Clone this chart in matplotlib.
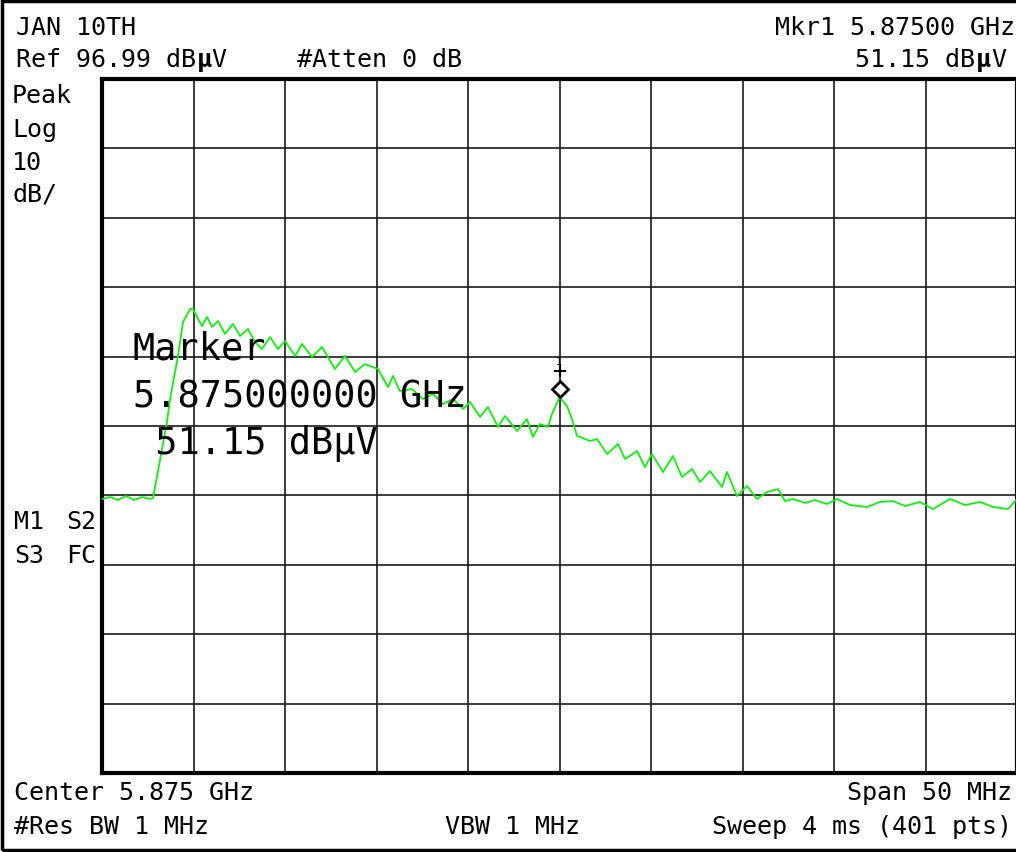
import numpy as np
import matplotlib.pyplot as plt
from matplotlib.patches import Rectangle
from matplotlib.transforms import offset_copy

# analyser settings (from the screen annotations)
ref_level = 96.99
db_per_div = 10
start_mhz = 5850.0
span_mhz = 50.0
mkr_mhz = 5875.0
mkr_level = 51.15

# trace: offset from start frequency (MHz) and level (dBuV)
trace_offset_mhz = [
    0.00, 0.44, 0.87, 1.31, 1.75, 2.19, 2.62, 2.79, 3.01, 3.28,
    3.55, 3.72, 3.99, 4.15, 4.43, 4.81, 4.97, 5.19, 5.46, 5.74,
    6.01, 6.34, 6.72, 7.16, 7.54, 7.98, 8.36, 8.74, 9.18, 9.62,
    10.00, 10.55, 10.93, 11.48, 12.02, 12.73, 13.28, 13.83, 14.37, 15.08,
    15.63, 15.90, 16.28, 16.94, 17.54, 18.09, 18.63, 19.18, 19.73, 20.11,
    20.66, 21.09, 21.64, 22.02, 22.68, 23.22, 23.55, 23.93, 24.37, 24.59,
    25.00, 25.41, 25.68, 25.96, 26.12, 26.67, 27.05, 27.60, 28.20, 28.58,
    29.24, 29.67, 30.05, 30.66, 31.20, 31.69, 32.24, 32.68, 33.22, 33.88,
    34.15, 34.70, 35.25, 35.79, 36.34, 36.94, 37.32, 37.76, 38.42, 38.96,
    39.62, 40.16, 40.87, 41.80, 42.51, 43.22, 43.88, 44.70, 45.41, 46.34,
    47.16, 47.98, 48.69, 49.51, 50.00,
]
trace_dbuv = [
    36.47, 36.76, 36.33, 36.90, 36.33, 36.76, 36.47, 36.60, 39.79, 43.68,
    47.57, 50.88, 54.77, 57.08, 61.98, 63.85, 63.85, 62.70, 61.40, 62.70,
    61.26, 62.12, 60.25, 61.69, 59.96, 60.97, 59.09, 58.08, 59.81, 58.08,
    59.24, 57.08, 58.81, 56.93, 58.37, 55.20, 57.08, 54.77, 55.92, 55.20,
    52.61, 54.20, 52.03, 52.32, 50.88, 51.60, 50.16, 50.88, 49.44, 50.45,
    48.29, 49.73, 46.85, 48.43, 46.27, 48.00, 45.41, 47.28, 46.85, 48.72,
    51.15, 49.87, 48.00, 45.55, 45.41, 44.83, 45.12, 42.96, 44.40, 42.24,
    43.39, 41.08, 42.96, 40.36, 42.67, 39.64, 40.80, 38.92, 40.51, 38.20,
    40.36, 36.90, 38.35, 36.47, 37.48, 37.91, 36.18, 36.47, 35.90, 36.33,
    35.75, 36.47, 35.61, 35.32, 36.04, 36.18, 35.46, 36.04, 35.03, 36.47,
    35.61, 36.04, 35.32, 35.03, 36.47,
]

W, H = 1016, 853
mono = 'DejaVu Sans Mono'
small = 18
big = 26.6


def px(x, y):
    return x / W, 1 - y / H


fig = plt.figure(figsize=(W / 100, H / 100), dpi=100)
fig.patch.set_facecolor('white')

# outer screen frame
fig.add_artist(Rectangle((2 / W, 2 / H), 1.05, 1 - 4 / H, transform=fig.transFigure,
                         fill=False, lw=2.5, edgecolor='black'))

ax = fig.add_axes([102 / W, (H - 774) / H, (1017 - 102) / W, (774 - 80) / H])
freqs = start_mhz + np.array(trace_offset_mhz)
ax.plot(freqs, trace_dbuv, color='#10f010', lw=1.3, zorder=3)

bottom = ref_level - 10 * db_per_div
ax.set_xlim(start_mhz, start_mhz + span_mhz)
ax.set_ylim(bottom, ref_level)
ax.set_xticks(np.linspace(start_mhz, start_mhz + span_mhz, 11))
ax.set_yticks(np.linspace(bottom, ref_level, 11))
ax.tick_params(length=0, labelbottom=False, labelleft=False)
ax.grid(True, color='#1a1a1a', lw=1.2)
for s in ax.spines.values():
    s.set_linewidth(3)

# marker diamond, just above the marked point
t_up = offset_copy(ax.transData, fig=fig, x=0, y=8, units='dots')
ax.plot([mkr_mhz], [mkr_level], transform=t_up, marker='D', ms=8, mfc='white',
        mec='black', mew=2, zorder=4)
t_stem = offset_copy(ax.transData, fig=fig, x=0, y=26, units='dots')
ax.plot([mkr_mhz], [mkr_level], transform=t_stem, marker='_', ms=9, mew=1.5, color='black')
ax.plot([mkr_mhz], [mkr_level], transform=t_stem, marker='|', ms=8, mew=1.5, color='black')
t_num = offset_copy(ax.transData, fig=fig, x=-1, y=36, units='dots')
ax.text(mkr_mhz, mkr_level, '1', transform=t_num, fontsize=7, family=mono,
        ha='center', va='center')

# big marker readout
fig.text(*px(133, 349), 'Marker', fontsize=big, family=mono, va='center')
fig.text(*px(133, 397), '%.9f GHz' % (mkr_mhz / 1000), fontsize=big, family=mono, va='center')
fig.text(*px(133, 444), ' %.2f dBµV' % mkr_level, fontsize=big, family=mono, va='center')

# header
fig.text(*px(16, 35), 'JAN 10TH', fontsize=small, family=mono, va='baseline')
fig.text(*px(16, 67), 'Ref %.2f dB' % ref_level, fontsize=small, family=mono, va='baseline')
fig.text(*px(197, 67), 'µ', fontsize=small, family=mono, va='baseline', weight='bold')
fig.text(*px(211, 67), 'V', fontsize=small, family=mono, va='baseline')
fig.text(*px(297, 67), '#Atten 0 dB', fontsize=small, family=mono, va='baseline')
fig.text(*px(1015, 35), 'Mkr1 %.5f GHz' % (mkr_mhz / 1000), fontsize=small, family=mono,
         va='baseline', ha='right')
fig.text(*px(975, 67), '%.2f dB' % mkr_level, fontsize=small, family=mono,
         va='baseline', ha='right')
fig.text(*px(976, 67), 'µ', fontsize=small, family=mono, va='baseline', weight='bold')
fig.text(*px(991, 67), 'V', fontsize=small, family=mono, va='baseline')

# left column
for y, s in [(96, 'Peak'), (130, 'Log'), (163, '10'), (194, 'dB/')]:
    fig.text(*px(12, y), s, fontsize=small, family=mono, va='center')
for y, a, b in [(522, 'M1', 'S2'), (556, 'S3', 'FC')]:
    fig.text(*px(14, y), a, fontsize=small, family=mono, va='center')
    fig.text(*px(96, y), b, fontsize=small, family=mono, va='center', ha='right')

# footer
fig.text(*px(14, 793), 'Center %.3f GHz' % ((start_mhz + span_mhz / 2) / 1000),
         fontsize=small, family=mono, va='center')
fig.text(*px(1012, 793), 'Span %d MHz' % span_mhz, fontsize=small, family=mono,
         va='center', ha='right')
fig.text(*px(14, 827), '#Res BW 1 MHz', fontsize=small, family=mono, va='center')
fig.text(*px(445, 827), 'VBW 1 MHz', fontsize=small, family=mono, va='center')
fig.text(*px(1012, 827), 'Sweep 4 ms (401 pts)', fontsize=small, family=mono,
         va='center', ha='right')

fig.savefig('out.png', dpi=100)
